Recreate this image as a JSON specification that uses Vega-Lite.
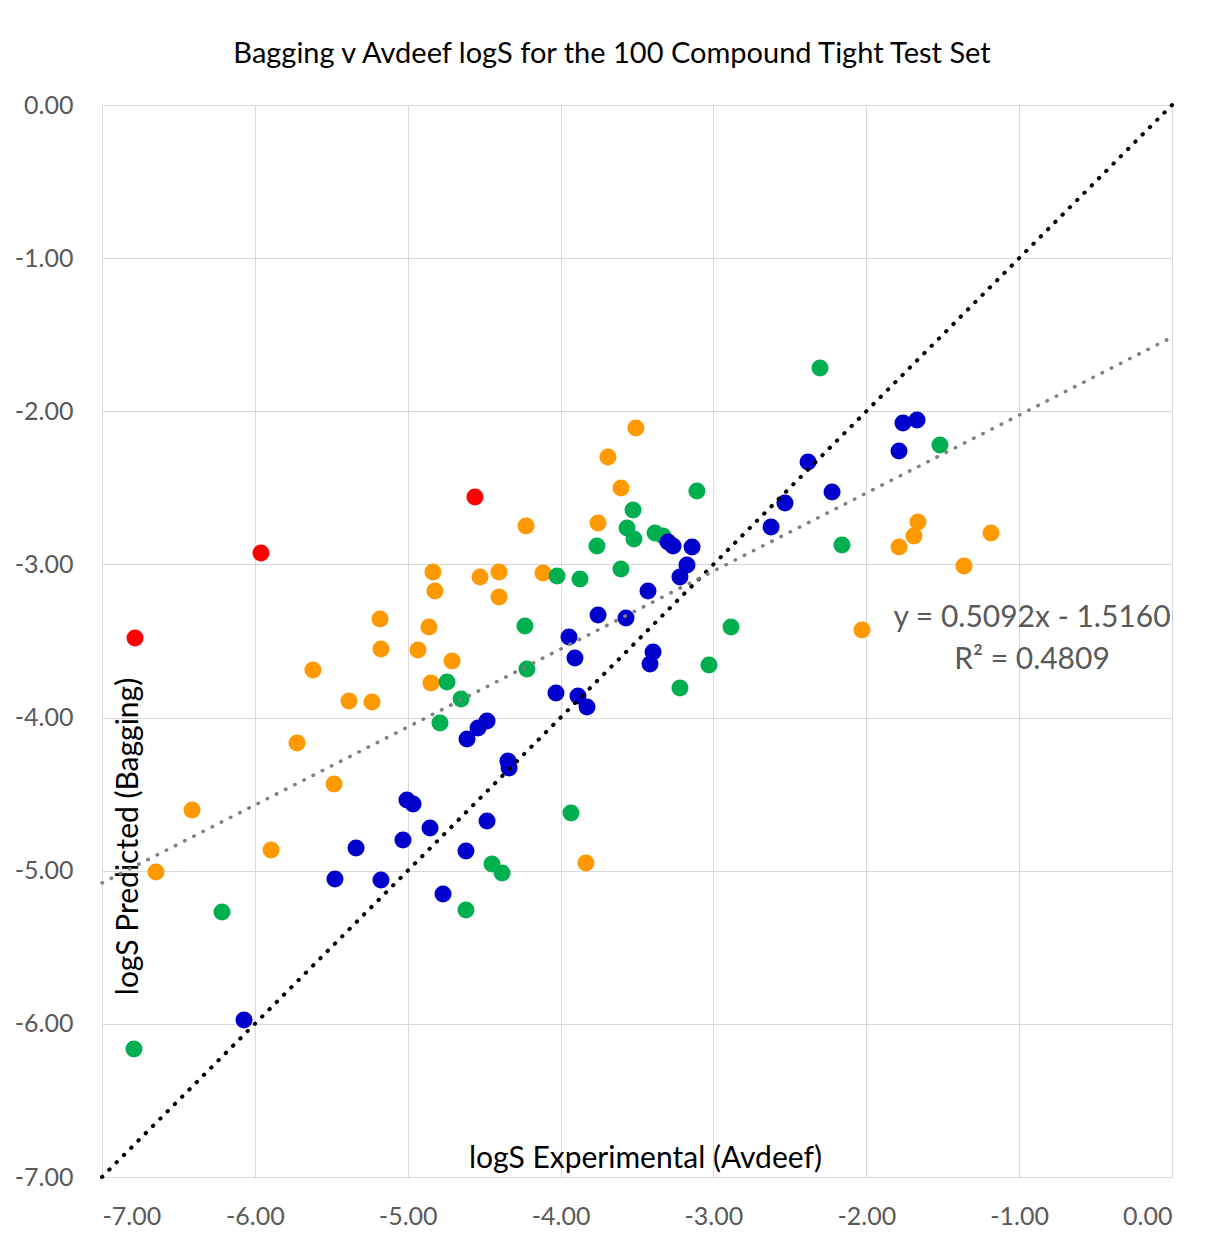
{
  "$schema": "https://vega.github.io/schema/vega-lite/v6.json",
  "width": 1070,
  "height": 1072,
  "autosize": {"type": "none"},
  "padding": {"left": 102, "top": 105, "right": 34, "bottom": 59},
  "background": "white",
  "title": {
    "text": "Bagging v Avdeef logS for the 100 Compound Tight Test Set",
    "frame": "group",
    "anchor": "middle",
    "dx": -25,
    "offset": 1,
    "baseline": "alphabetic",
    "font": "Lato",
    "fontSize": 29,
    "fontWeight": "normal",
    "color": "#000000"
  },
  "config": {
    "view": {"stroke": null},
    "axis": {
      "grid": true,
      "gridColor": "#D9D9D9",
      "gridWidth": 1,
      "domain": false,
      "ticks": false,
      "labelFont": "Lato",
      "labelFontSize": 25,
      "labelColor": "#595959",
      "titleFont": "Lato",
      "titleFontSize": 30,
      "titleFontWeight": "normal",
      "titleColor": "#000000"
    }
  },
  "datasets": {
    "compounds": [
      {"exp": -6.784, "pred": -3.480, "band": "> 2"},
      {"exp": -5.960, "pred": -2.925, "band": "> 2"},
      {"exp": -4.560, "pred": -2.560, "band": "> 2"},

      {"exp": -3.507, "pred": -2.109, "band": "1 - 2"},
      {"exp": -3.690, "pred": -2.299, "band": "1 - 2"},
      {"exp": -3.605, "pred": -2.501, "band": "1 - 2"},
      {"exp": -4.226, "pred": -2.749, "band": "1 - 2"},
      {"exp": -3.755, "pred": -2.730, "band": "1 - 2"},
      {"exp": -4.835, "pred": -3.049, "band": "1 - 2"},
      {"exp": -4.527, "pred": -3.082, "band": "1 - 2"},
      {"exp": -4.403, "pred": -3.049, "band": "1 - 2"},
      {"exp": -4.115, "pred": -3.056, "band": "1 - 2"},
      {"exp": -4.822, "pred": -3.174, "band": "1 - 2"},
      {"exp": -4.403, "pred": -3.213, "band": "1 - 2"},
      {"exp": -5.181, "pred": -3.356, "band": "1 - 2"},
      {"exp": -4.861, "pred": -3.409, "band": "1 - 2"},
      {"exp": -5.175, "pred": -3.552, "band": "1 - 2"},
      {"exp": -4.933, "pred": -3.559, "band": "1 - 2"},
      {"exp": -4.710, "pred": -3.631, "band": "1 - 2"},
      {"exp": -5.620, "pred": -3.689, "band": "1 - 2"},
      {"exp": -4.848, "pred": -3.774, "band": "1 - 2"},
      {"exp": -5.384, "pred": -3.892, "band": "1 - 2"},
      {"exp": -5.234, "pred": -3.898, "band": "1 - 2"},
      {"exp": -5.724, "pred": -4.166, "band": "1 - 2"},
      {"exp": -5.482, "pred": -4.434, "band": "1 - 2"},
      {"exp": -6.411, "pred": -4.604, "band": "1 - 2"},
      {"exp": -5.894, "pred": -4.865, "band": "1 - 2"},
      {"exp": -6.647, "pred": -5.008, "band": "1 - 2"},
      {"exp": -3.834, "pred": -4.950, "band": "1 - 2"},
      {"exp": -2.028, "pred": -3.428, "band": "1 - 2"},
      {"exp": -1.786, "pred": -2.886, "band": "1 - 2"},
      {"exp": -1.688, "pred": -2.814, "band": "1 - 2"},
      {"exp": -1.662, "pred": -2.723, "band": "1 - 2"},
      {"exp": -1.184, "pred": -2.795, "band": "1 - 2"},
      {"exp": -1.361, "pred": -3.010, "band": "1 - 2"},

      {"exp": -2.303, "pred": -1.717, "band": "0.5 - 1"},
      {"exp": -1.518, "pred": -2.220, "band": "0.5 - 1"},
      {"exp": -3.108, "pred": -2.521, "band": "0.5 - 1"},
      {"exp": -3.526, "pred": -2.645, "band": "0.5 - 1"},
      {"exp": -3.565, "pred": -2.762, "band": "0.5 - 1"},
      {"exp": -3.520, "pred": -2.834, "band": "0.5 - 1"},
      {"exp": -3.382, "pred": -2.795, "band": "0.5 - 1"},
      {"exp": -3.330, "pred": -2.814, "band": "0.5 - 1"},
      {"exp": -3.762, "pred": -2.880, "band": "0.5 - 1"},
      {"exp": -4.023, "pred": -3.076, "band": "0.5 - 1"},
      {"exp": -3.873, "pred": -3.095, "band": "0.5 - 1"},
      {"exp": -3.605, "pred": -3.030, "band": "0.5 - 1"},
      {"exp": -4.233, "pred": -3.402, "band": "0.5 - 1"},
      {"exp": -4.220, "pred": -3.683, "band": "0.5 - 1"},
      {"exp": -4.743, "pred": -3.768, "band": "0.5 - 1"},
      {"exp": -4.651, "pred": -3.879, "band": "0.5 - 1"},
      {"exp": -4.789, "pred": -4.035, "band": "0.5 - 1"},
      {"exp": -2.885, "pred": -3.409, "band": "0.5 - 1"},
      {"exp": -3.029, "pred": -3.657, "band": "0.5 - 1"},
      {"exp": -3.219, "pred": -3.807, "band": "0.5 - 1"},
      {"exp": -2.159, "pred": -2.873, "band": "0.5 - 1"},
      {"exp": -3.932, "pred": -4.623, "band": "0.5 - 1"},
      {"exp": -4.449, "pred": -4.956, "band": "0.5 - 1"},
      {"exp": -4.383, "pred": -5.015, "band": "0.5 - 1"},
      {"exp": -4.619, "pred": -5.257, "band": "0.5 - 1"},
      {"exp": -6.215, "pred": -5.270, "band": "0.5 - 1"},
      {"exp": -6.791, "pred": -6.164, "band": "0.5 - 1"},

      {"exp": -1.668, "pred": -2.057, "band": "< 0.5"},
      {"exp": -1.760, "pred": -2.077, "band": "< 0.5"},
      {"exp": -1.786, "pred": -2.259, "band": "< 0.5"},
      {"exp": -2.381, "pred": -2.331, "band": "< 0.5"},
      {"exp": -2.532, "pred": -2.599, "band": "< 0.5"},
      {"exp": -2.224, "pred": -2.527, "band": "< 0.5"},
      {"exp": -2.623, "pred": -2.756, "band": "< 0.5"},
      {"exp": -3.297, "pred": -2.854, "band": "< 0.5"},
      {"exp": -3.264, "pred": -2.880, "band": "< 0.5"},
      {"exp": -3.140, "pred": -2.886, "band": "< 0.5"},
      {"exp": -3.173, "pred": -3.004, "band": "< 0.5"},
      {"exp": -3.219, "pred": -3.082, "band": "< 0.5"},
      {"exp": -3.428, "pred": -3.174, "band": "< 0.5"},
      {"exp": -3.755, "pred": -3.330, "band": "< 0.5"},
      {"exp": -3.572, "pred": -3.350, "band": "< 0.5"},
      {"exp": -3.945, "pred": -3.474, "band": "< 0.5"},
      {"exp": -3.906, "pred": -3.611, "band": "< 0.5"},
      {"exp": -3.395, "pred": -3.572, "band": "< 0.5"},
      {"exp": -3.415, "pred": -3.650, "band": "< 0.5"},
      {"exp": -4.030, "pred": -3.840, "band": "< 0.5"},
      {"exp": -3.886, "pred": -3.859, "band": "< 0.5"},
      {"exp": -3.827, "pred": -3.931, "band": "< 0.5"},
      {"exp": -4.481, "pred": -4.022, "band": "< 0.5"},
      {"exp": -4.540, "pred": -4.068, "band": "< 0.5"},
      {"exp": -4.612, "pred": -4.140, "band": "< 0.5"},
      {"exp": -4.344, "pred": -4.284, "band": "< 0.5"},
      {"exp": -4.337, "pred": -4.329, "band": "< 0.5"},
      {"exp": -5.005, "pred": -4.538, "band": "< 0.5"},
      {"exp": -4.965, "pred": -4.564, "band": "< 0.5"},
      {"exp": -4.854, "pred": -4.721, "band": "< 0.5"},
      {"exp": -4.481, "pred": -4.675, "band": "< 0.5"},
      {"exp": -5.031, "pred": -4.799, "band": "< 0.5"},
      {"exp": -5.338, "pred": -4.852, "band": "< 0.5"},
      {"exp": -4.619, "pred": -4.871, "band": "< 0.5"},
      {"exp": -5.476, "pred": -5.054, "band": "< 0.5"},
      {"exp": -5.175, "pred": -5.061, "band": "< 0.5"},
      {"exp": -4.769, "pred": -5.152, "band": "< 0.5"},
      {"exp": -6.071, "pred": -5.975, "band": "< 0.5"}
    ],
    "identity": [
      {"exp": -7, "pred": -7},
      {"exp": 0, "pred": 0}
    ],
    "trend": [
      {"exp": -7, "pred": -5.0804},
      {"exp": 0, "pred": -1.516}
    ]
  },
  "layer": [
    {
      "data": {"name": "compounds"},
      "mark": {"type": "circle", "size": 290, "opacity": 1},
      "encoding": {
        "x": {
          "field": "exp",
          "type": "quantitative",
          "scale": {"domain": [-7, 0], "nice": false, "zero": false},
          "axis": {
            "values": [-7, -6, -5, -4, -3, -2, -1, 0],
            "labelExpr": "replace(format(datum.value, '.2f'), '\u2212', '-')",
            "labelPadding": 27,
            "title": "logS Experimental (Avdeef)",
            "titleX": 543,
            "titleY": -10,
            "titleAlign": "center",
            "titleBaseline": "alphabetic"
          }
        },
        "y": {
          "field": "pred",
          "type": "quantitative",
          "scale": {"domain": [-7, 0], "nice": false, "zero": false},
          "axis": {
            "values": [-7, -6, -5, -4, -3, -2, -1, 0],
            "labelExpr": "replace(format(datum.value, '.2f'), '\u2212', '-')",
            "labelPadding": 29,
            "title": "logS Predicted (Bagging)",
            "titleAngle": -90,
            "titleX": 35,
            "titleY": 731,
            "titleAlign": "center",
            "titleBaseline": "alphabetic"
          }
        },
        "color": {
          "field": "band",
          "type": "nominal",
          "scale": {
            "domain": ["< 0.5", "0.5 - 1", "1 - 2", "> 2"],
            "range": ["#0000CC", "#00B050", "#FF9900", "#FF0000"]
          },
          "legend": null
        }
      }
    },
    {
      "data": {"name": "identity"},
      "mark": {"type": "line", "color": "#000000", "strokeWidth": 4, "strokeCap": "round", "strokeDash": [0.5, 9.8]},
      "encoding": {
        "x": {"field": "exp", "type": "quantitative"},
        "y": {"field": "pred", "type": "quantitative"}
      }
    },
    {
      "data": {"name": "trend"},
      "mark": {"type": "line", "color": "#808080", "strokeWidth": 3.5, "strokeCap": "round", "strokeDash": [0.5, 9.8]},
      "encoding": {
        "x": {"field": "exp", "type": "quantitative"},
        "y": {"field": "pred", "type": "quantitative"}
      }
    },
    {
      "data": {"values": [{}]},
      "mark": {
        "type": "text",
        "font": "Lato",
        "fontSize": 30,
        "color": "#595959",
        "align": "center",
        "baseline": "alphabetic",
        "lineHeight": 42
      },
      "encoding": {
        "x": {"datum": -0.916},
        "y": {"datum": -3.409},
        "text": {"value": ["y = 0.5092x - 1.5160", "R\u00b2 = 0.4809"]}
      }
    }
  ]
}
